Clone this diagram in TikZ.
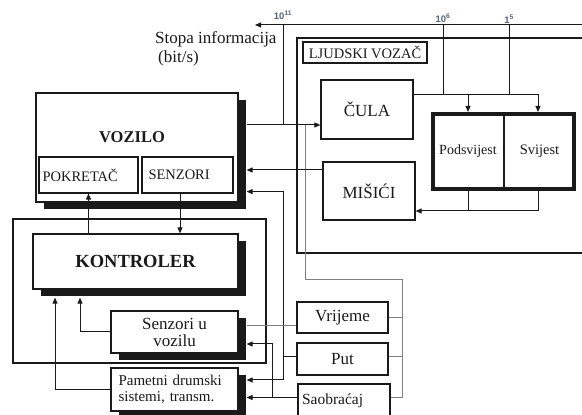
\documentclass[tikz,border=0pt]{standalone}
\usepackage{fontspec}
\setmainfont{Liberation Serif}
\setsansfont{Liberation Sans}
\usetikzlibrary{arrows.meta,calc,shadows}
\definecolor{Ink}{HTML}{1A1A1A}
\definecolor{FeedGray}{HTML}{808080}
\definecolor{RateInk}{HTML}{55647A}
\newcommand{\fsz}[2]{\fontsize{#1}{#2}\selectfont}

\tikzset{
  box/.style={draw=Ink, line width=1.2pt, fill=white, inner sep=0pt, text=Ink, align=center},
  shadowbox/.style={box, drop shadow={shadow xshift=8pt, shadow yshift=-7pt, fill=Ink, opacity=1}},
  wire/.style={draw=Ink, line width=1pt},
  arr/.style={wire, -{Triangle[length=6pt,width=5pt]}},
  feed/.style={draw=FeedGray, line width=1pt},
  rate/.style={font=\sffamily\bfseries\fsz{9.5}{10}, text=RateInk, inner sep=1pt}
}

\begin{document}
\begin{tikzpicture}[x=1pt,y=1pt]
  \useasboundingbox (0,0) rectangle (582,415);
  \clip (0,0) rectangle (582,415);
  \fill[white] (0,0) rectangle (582,415);

  \node[box, minimum width=303pt, minimum height=215pt, line width=1.5pt] (driver) at (448.5,269.5) {};
  \node[box, minimum width=124pt, minimum height=21pt, line width=1.5pt, font=\fsz{14.5}{16}] (driverlbl) at (365,362.5) {LJUDSKI VOZAČ};
  \node[box, minimum width=92pt, minimum height=59pt, font=\fsz{17}{19}] (cula) at (367,305.5) {ČULA};
  \node[box, minimum width=92pt, minimum height=58pt, font=\fsz{17}{19}] (misici) at (369,224) {MIŠIĆI};
  \node[box, minimum width=72pt, minimum height=77pt, line width=2pt, font=\fsz{14}{16}] (podsv) at (468,263.5) {Podsvijest};
  \node[box, minimum width=71pt, minimum height=77pt, line width=2pt, font=\fsz{14.5}{16}] (svij) at (539.5,263.5) {\raisebox{3pt}{Svijest}};
  \draw[Ink, line width=4pt] ([shift={(2pt,-2pt)}]podsv.north west) rectangle ([shift={(-2pt,2pt)}]svij.south east);

  \node[box, minimum width=253pt, minimum height=144pt] (ctrl) at (139.5,124) {};
  \node[shadowbox, minimum width=202pt, minimum height=109pt] (vozilo) at (137,267.5) {};
  \node[font=\bfseries\fsz{16.5}{18}, text=Ink, inner sep=0pt] (voztxt) at ($(vozilo.center)+(-5,10.5)$) {VOZILO};
  \node[box, minimum width=99pt, minimum height=36pt, text width=92pt, align=left, font=\fsz{14.5}{16}] (pokretac) at (88.5,240) {POKRETAČ};
  \node[box, minimum width=91pt, minimum height=36pt, text width=78pt, align=left, font=\fsz{14.5}{16}] (senzori) at (187.5,240) {SENZORI};
  \node[shadowbox, minimum width=205pt, minimum height=55pt, font=\bfseries\fsz{18.5}{20}] (kontroler) at (135.5,153.5) {KONTROLER};
  \node[shadowbox, minimum width=127pt, minimum height=42pt, font=\fsz{17}{17}] (senzu) at (174.5,83) {Senzori u\\vozilu};
  \node[shadowbox, minimum width=127pt, minimum height=43pt, text width=112pt, align=left, font=\fsz{15}{16}] (pametni) at (174.5,25.5) {Pametni drumski\\sistemi, transm.};

  \node[box, minimum width=91pt, minimum height=31pt, font=\fsz{17}{19}] (vrijeme) at (342.5,97.5) {Vrijeme};
  \node[box, minimum width=91pt, minimum height=32pt, font=\fsz{17}{19}] (put) at (342.5,56) {Put};
  \node[box, minimum width=92pt, minimum height=33pt, text width=84pt, align=left, font=\fsz{15.5}{17}] (saobracaj) at (344,14.5) {Saobraćaj};

  \node[anchor=north west, align=left, inner sep=0pt, text=Ink, font=\fsz{17}{19}] (ratelbl) at (155,384) {Stopa informacija\\\hspace{3pt}(bit/s)};
  \node[rate] (r11) at (283,400) {10\textsuperscript{11}};
  \node[rate] (r6) at (443,397) {10\textsuperscript{6}};
  \node[rate] (r5) at (509,396) {1\textsuperscript{5}};

  \coordinate (rateR) at (590,390);
  \coordinate (rateL) at (255,390);
  \coordinate (senseIn) at ([yshift=-15.5pt]cula.west);
  \coordinate (culaOut) at ([yshift=14.5pt]cula.east);
  \coordinate (musIn) at ([yshift=-20pt]misici.east);
  \coordinate (musOut) at ([yshift=21pt]misici.west);
  \coordinate (envTop) at (305,135);
  \coordinate (envBus) at (402,135);
  \coordinate (roadBus) at ($(put.west)+(-13,2)$);
  \coordinate (trafBus) at ($(saobracaj.west)+(-25,3)$);

  \draw[arr] (rateR) -- (rateL);
  \draw[wire] (r11 |- rateL) -- (r11 |- senseIn);
  \draw[wire] (r6 |- rateL) -- (r6 |- culaOut);
  \draw[wire] (r5 |- rateL) -- (r5 |- culaOut);

  \draw[arr] ($(vozilo.east |- senseIn)+(8,0)$) -- (senseIn);
  \draw[feed] (senseIn -| envTop) -- (envTop) -- (envBus) |- ([yshift=3pt]saobracaj.east);
  \draw[feed] (vrijeme.east) -- (vrijeme.east -| envBus);
  \draw[feed] ([yshift=2pt]put.east) -- ([yshift=2pt]put.east -| envBus);

  \draw[arr] (culaOut) -| ([xshift=-1.5pt]svij.north);
  \draw[arr] (culaOut -| podsv.north) -- (podsv.north);
  \draw[arr] ([xshift=-1.5pt]svij.south) |- (musIn);
  \draw[wire] (podsv.south) -- (podsv.south |- musIn);
  \draw[arr] (musOut) -- ($(vozilo.east |- musOut)+(8,0)$);

  \draw[wire] ([yshift=2pt]put.west) -- (roadBus);
  \draw[arr] (roadBus) |- ($(vozilo.south east)+(8,11)$);
  \draw[arr] (roadBus) |- ($(pametni.east)+(8,9.5)$);
  \draw[arr] ([yshift=3pt]saobracaj.west) -- ($(pametni.east |- trafBus)+(8,0)$);
  \draw[arr] (trafBus) |- ($(senzu.east)+(8,-12)$);
  \draw[feed] ([yshift=-8.5pt]vrijeme.west) -- ($(senzu.east)+(8,6)$);

  \draw[arr] (kontroler.north -| pokretac.south) -- (pokretac.south);
  \draw[arr] ([xshift=-7.5pt]senzori.south) -- ([xshift=-7.5pt]senzori.south |- kontroler.north);
  \draw[arr] (senzu.west) -| ($(kontroler.south)+(-55.5,-8)$);
  \draw[arr] ([yshift=-0.5pt]pametni.west) -| ($(kontroler.south)+(-80.5,-8)$);
\end{tikzpicture}
\end{document}
